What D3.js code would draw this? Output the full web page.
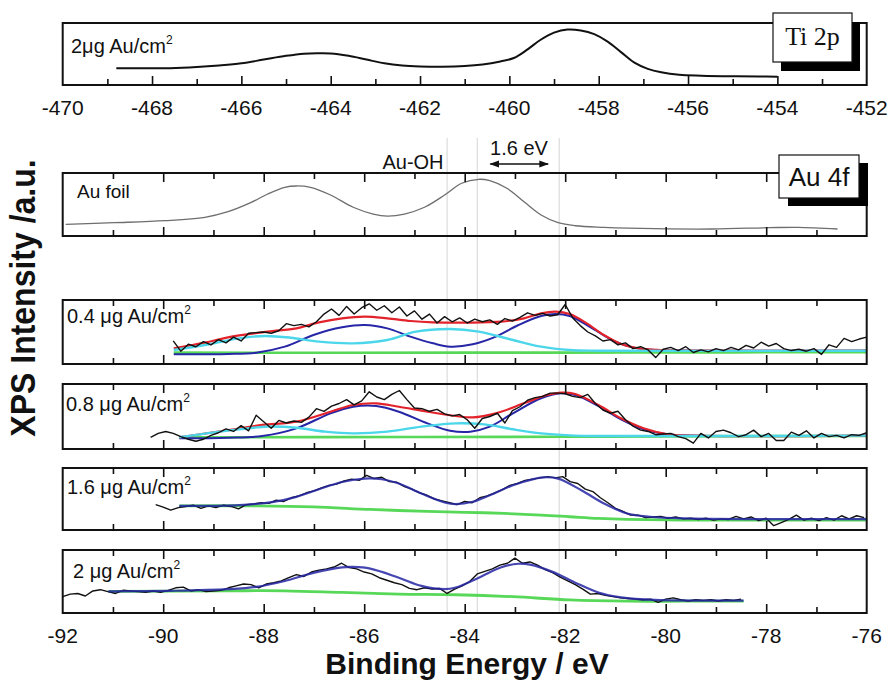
<!DOCTYPE html>
<html>
<head>
<meta charset="utf-8">
<script src="https://cdn.jsdelivr.net/npm/d3@7"></script>
<style>
  body { margin: 0; background: #fff; }
  svg { display: block; }
</style>
</head>
<body>
<svg id="chart" width="889" height="682"></svg>
<script>
// ---------------- data ----------------
// Binding-energy axes (eV, plotted as negative values)
const tiDomain = [-470, -452];
const auDomain = [-92, -76];
const tiTickLabels = [-470, -468, -466, -464, -462, -460, -458, -456, -454, -452];
const auTickLabels = [-92, -90, -88, -86, -84, -82, -80, -78, -76];

// Reference energies marked across the Au 4f panels
const refLines = [-84.35, -83.75, -82.12];
const shiftArrow = [-83.49, -82.34];   // "1.6 eV" arrow ends

// Ti 2p, 2 µg Au/cm² : [energy, intensity a.u.]
const tiSpectrum = [[-468.8,26.9],[-468.2,27],[-467.6,27.2],[-467.0,29],[-466.5,31.5],[-466.0,35],[-465.5,41],[-465.0,47],
  [-464.6,50.5],[-464.3,51.3],[-464.0,51],[-463.6,47],[-463.2,41],[-462.8,35],[-462.4,31.5],[-462.0,30],[-461.5,29.5],
  [-461.0,30.5],[-460.6,33],[-460.2,38],[-459.9,43.5],[-459.6,57],[-459.3,73],[-459.0,84.5],[-458.7,89.5],[-458.4,88],
  [-458.1,82],[-457.8,70],[-457.5,53],[-457.2,36],[-456.9,26],[-456.6,20.5],[-456.2,16.5],[-455.7,15],[-455.0,14],
  [-454.4,13.6],[-454.0,13.4]];

// Au 4f, Au foil
const foilSpectrum = [[-91.94,18.6],[-90.98,21.1],[-89.96,24.3],[-89.17,29.7],[-88.71,38.6],[-88.26,52.9],[-87.92,66.7],
  [-87.58,77.3],[-87.35,79.4],[-87.07,77.3],[-86.67,65.1],[-86.22,45.6],[-85.82,34.9],[-85.54,31.7],[-85.20,34.9],
  [-84.80,45.6],[-84.40,65.1],[-84.06,83.7],[-83.72,90],[-83.50,87.8],[-83.16,75.7],[-82.82,54.4],[-82.48,33.3],
  [-82.14,21.1],[-81.80,16.3],[-81.23,13.8],[-80.21,11.6],[-79.07,11.1],[-77.94,13.2],[-77.37,13.8],[-76.58,11.1]];

// Raw scans: constant energy step, first energy per scan
const scanStep = 0.15;
const scan04Start = -89.8;
const counts04 = [36,20,31,27,35,30,38,33,42,36,48,49,50,48,52,63,60,62,58,66,78,86,76,90,78,88,94,84,91,80,89,75,83,70,
  78,64,74,66,72,64,70,66,69,62,71,67,73,80,76,79,75,77,93,72,60,50,44,36,38,30,33,24,27,22,10,23,26,21,27,18,22,19,24,
  21,26,22,29,25,34,28,32,24,21,23,20,24,15,30,26,40,35,39,42];
const scan08Start = -90.25;
const counts08 = [18,24,27,24,19,15,12,15,21,25,31,27,36,28,52,42,32,44,40,43,41,49,62,58,66,70,76,68,74,88,80,76,84,90,
  76,63,62,58,61,54,51,53,45,32,47,50,55,40,59,65,75,79,81,86,86,85,81,79,84,70,60,55,58,45,35,29,27,22,23,24,19,16,9,
  24,17,27,29,25,19,22,29,19,24,13,13,26,21,28,17,24,19,21,17,22,21,25];
const scan16Start = -90.15;
const counts16 = [41,37,32,36,38,40,35,39,36,40,38,34,41,42,44,43,48,46,52,55,60,63,68,72,74,79,82,80,88,83,85,78,77,70,
  66,60,56,50,47,44,41,46,44,52,55,60,65,72,75,80,82,84,86,84,86,78,75,66,62,52,44,35,30,24,24,20,21,22,19,21,18,19,17,
  19,16,18,17,22,18,21,15,19,7,12,17,24,16,19,15,20,16,23,18,23,20];
const scan20Start = -92.0;
const counts20 = [26,30,31,27,35,37,34,31,36,35,34,33,35,33,36,40,41,35,37,34,35,36,40,43,46,45,40,46,48,51,56,61,58,65,
  68,70,73,79,72,70,65,62,56,52,48,45,39,37,40,38,39,31,38,43,50,62,66,70,76,79,87,79,81,76,69,64,57,51,45,38,30,31,28,
  26,24,23,22,21,22,17,22,24,21,19,21,20,21,19,21,20,22];

// Peak-fit curves [energy, intensity]
const env04 = [[-89.79,24.5],[-89.17,33.3],[-88.71,41.7],[-87.92,50.5],[-87.35,55.7],[-86.90,65.1],[-86.44,71.4],[-85.99,74],
  [-85.54,71.4],[-85.08,67.2],[-84.63,65.1],[-83.95,64.6],[-83.27,66.1],[-82.82,71.4],[-82.48,79.2],[-82.19,81.8],
  [-81.91,78.1],[-81.57,63.5],[-81.23,45.3],[-80.89,31.3],[-80.55,24.5],[-80.10,21.9],[-79.07,20.8],[-76.01,20.8]];
const metal04 = [[-89.79,15.1],[-88.71,15.6],[-88.15,17.7],[-87.58,27.1],[-87.01,45.3],[-86.44,57.3],[-85.99,60.9],
  [-85.54,55.7],[-85.08,42.7],[-84.63,32.3],[-84.29,27.1],[-83.84,30.7],[-83.38,42.7],[-82.93,60.9],[-82.48,75],
  [-82.19,78.1],[-81.91,75],[-81.46,55.7],[-81.00,34.9],[-80.66,26],[-80.21,21.9],[-79.5,20.8],[-76.01,20.8]];
const hydrox04 = [[-89.79,21.9],[-89.17,29.7],[-88.49,40.1],[-87.97,43.8],[-87.46,41.1],[-86.90,34.9],[-86.22,32.3],
  [-85.54,37.5],[-84.97,50.5],[-84.29,54.7],[-83.72,50.5],[-83.04,37.5],[-82.48,27.1],[-81.91,21.9],[-81.34,20.8],
  [-76.01,20.8]];
const bg04 = [[-89.79,17.7],[-84.0,17.7],[-80.6,17.9],[-76.01,18.6]];

const env08 = [[-89.68,18],[-88.71,29],[-88.03,37],[-87.35,42],[-86.67,57.4],[-86.22,67.7],[-85.76,70.3],[-85.31,65],
  [-84.74,57.4],[-84.18,50.8],[-83.84,48.7],[-83.38,54.9],[-82.82,70.3],[-82.36,83],[-82.08,86.7],[-81.80,84.6],
  [-81.34,67.7],[-80.89,47.2],[-80.44,31.8],[-79.98,23],[-79.41,20.5],[-76.01,20.5]];
const metal08 = [[-89.68,16.4],[-88.71,17.4],[-88.03,20],[-87.35,31.8],[-86.67,54.9],[-86.22,65.1],[-85.76,66.2],
  [-85.31,57.4],[-84.74,39.5],[-84.29,28.2],[-83.89,26.7],[-83.50,34.4],[-83.04,54.9],[-82.48,78],[-82.08,85.6],
  [-81.80,83],[-81.34,66.2],[-80.89,45.6],[-80.44,30.3],[-79.98,22.6],[-79.41,20.5],[-76.01,20.5]];
const hydrox08 = [[-89.68,18],[-88.71,28.2],[-87.92,34.4],[-87.35,32.8],[-86.78,26.7],[-86.22,24.1],[-85.54,26.7],
  [-84.86,34.4],[-84.18,39.5],[-83.61,37.9],[-83.04,30.3],[-82.48,24.1],[-81.91,21],[-81.34,20],[-76.01,20.5]];
const bg08 = [[-89.68,18],[-85.0,18.5],[-82.0,18.8],[-80.0,19.5],[-76.01,20]];

const fit16 = [[-89.68,39],[-88.49,40.1],[-87.80,45.5],[-87.35,53.5],[-86.90,65.8],[-86.44,77.5],[-85.99,82.9],
  [-85.65,81.8],[-85.31,74.9],[-84.86,58.8],[-84.40,44.4],[-84.18,41.7],[-83.84,45.5],[-83.50,56.1],[-83.04,72.2],
  [-82.59,82.9],[-82.42,85],[-82.14,82.9],[-81.68,64.2],[-81.23,42.8],[-80.77,26.7],[-80.32,21.4],[-79.64,18.7],
  [-77.94,17.6],[-75.92,17.6]];
const bg16 = [[-89.68,39],[-88.15,39],[-87.01,37.4],[-85.88,33.2],[-84.74,29.9],[-83.61,27.8],[-82.48,24.1],
  [-81.91,21.4],[-81.34,18.7],[-80.77,17.1],[-79.64,16],[-75.92,16]];

const fit20 = [[-91.09,34.2],[-89.85,35.2],[-88.71,37.8],[-88.15,41.5],[-87.58,50.8],[-87.01,63.7],[-86.44,72.5],
  [-86.22,73.1],[-85.88,70.5],[-85.31,56],[-84.86,43],[-84.40,37.8],[-84.18,40.4],[-83.72,56],[-83.27,72.5],
  [-82.93,78.2],[-82.70,76.7],[-82.25,65.3],[-81.80,48.2],[-81.34,32.6],[-80.89,24.9],[-80.21,20.7],[-78.45,19.7]];
const bg20 = [[-91.09,34.2],[-88.71,35.2],[-87.58,35.2],[-86.44,32.6],[-85.31,30],[-84.18,29],[-83.04,25.9],
  [-81.91,20.7],[-80.77,18.7],[-79.64,18.7],[-78.45,18.7]];

// ---------------- drawing ----------------
const svg = d3.select("#chart");
const sans = "'Liberation Sans', Arial, Helvetica, sans-serif";
const X0 = 62.7, X1 = 866.7;
const xTi = d3.scaleLinear().domain(tiDomain).range([X0, X1]);
const xAu = d3.scaleLinear().domain(auDomain).range([X0, X1]);

const C = { red: "#e3232b", blue: "#2626a6", cyan: "#4cd6ea", green: "#46d446", foil: "#6e6e6e" };

function makePanel(top, bottom, id) {
  const y = d3.scaleLinear().domain([0, 100]).range([bottom, top]);
  svg.append("clipPath").attr("id", id).append("rect")
    .attr("x", X0).attr("y", top).attr("width", X1 - X0).attr("height", bottom - top);
  return { top, bottom, y, id };
}

const pTi = makePanel(23, 85, "cTi");
const pFoil = makePanel(173, 236, "cFoil");
const p04 = makePanel(300, 364, "c04");
const p08 = makePanel(384, 449, "c08");
const p16 = makePanel(468, 530, "c16");
const p20 = makePanel(550, 613, "c20");

function label(x, y, txt, opt = {}) {
  const g = svg.append("g").attr("transform", `translate(${x},${y}) scale(${opt.stretch || 1},1)`);
  const t = g.append("text")
    .attr("font-family", opt.family || sans)
    .attr("font-size", opt.size || 20)
    .attr("font-weight", opt.weight || "normal")
    .attr("text-anchor", opt.anchor || "start")
    .attr("fill", "#111")
    .text(txt);
  if (opt.sup) {
    t.append("tspan").attr("font-size", 12).attr("dy", -9).text(opt.sup);
  }
  return t;
}

// reference energy lines across the Au 4f stack
refLines.forEach(e => {
  svg.append("line").attr("x1", xAu(e)).attr("x2", xAu(e)).attr("y1", 138).attr("y2", 613)
    .attr("stroke", "#d4d4d4").attr("stroke-width", 1);
});

function drawLine(p, x, data, color, width, curve, opacity = 1) {
  const gen = d3.line().x(d => x(d[0])).y(d => p.y(d[1])).curve(curve);
  svg.append("path").datum(data).attr("d", gen)
    .attr("clip-path", `url(#${p.id})`)
    .attr("fill", "none").attr("stroke", color).attr("stroke-width", width)
    .attr("stroke-linejoin", "round").attr("stroke-opacity", opacity);
}
function scanPairs(start, counts) {
  return counts.map((c, i) => [start + i * scanStep, c]);
}
const smooth = d3.curveCatmullRom.alpha(0.5);
const raw = d3.curveLinear;

// Ti 2p
drawLine(pTi, xTi, tiSpectrum, "#111", 2, smooth);
// Au foil
drawLine(pFoil, xAu, foilSpectrum, C.foil, 1.3, smooth);
// 0.4
drawLine(p04, xAu, bg04, C.green, 2.6, smooth, 0.9);
drawLine(p04, xAu, metal04, C.blue, 2, smooth);
drawLine(p04, xAu, env04, C.red, 2.2, smooth);
drawLine(p04, xAu, hydrox04, C.cyan, 2.4, smooth);
drawLine(p04, xAu, scanPairs(scan04Start, counts04), "#111", 1.4, raw);
// 0.8
drawLine(p08, xAu, bg08, C.green, 2.6, smooth, 0.9);
drawLine(p08, xAu, metal08, C.blue, 2, smooth);
drawLine(p08, xAu, env08, C.red, 2.2, smooth);
drawLine(p08, xAu, hydrox08, C.cyan, 2.4, smooth);
drawLine(p08, xAu, scanPairs(scan08Start, counts08), "#111", 1.4, raw);
// 1.6
drawLine(p16, xAu, bg16, C.green, 2.8, smooth, 0.9);
drawLine(p16, xAu, scanPairs(scan16Start, counts16), "#111", 1.4, raw);
drawLine(p16, xAu, fit16, C.blue, 2.2, smooth, 0.85);
// 2
drawLine(p20, xAu, bg20, C.green, 2.8, smooth, 0.9);
drawLine(p20, xAu, scanPairs(scan20Start, counts20), "#111", 1.4, raw);
drawLine(p20, xAu, fit20, C.blue, 2.2, smooth, 0.85);

// frames and inward ticks
function frame(p, x, majors, minors, bothSides) {
  svg.append("rect").attr("x", X0).attr("y", p.top).attr("width", X1 - X0).attr("height", p.bottom - p.top)
    .attr("fill", "none").attr("stroke", "#111").attr("stroke-width", 2);
  const sides = bothSides ? ["bottom", "top"] : ["bottom"];
  sides.forEach(side => {
    [[majors, 9], [minors, 6]].forEach(([vals, len]) => {
      const ax = side === "bottom" ? d3.axisTop(x) : d3.axisBottom(x);
      const g = svg.append("g")
        .attr("transform", `translate(0,${side === "bottom" ? p.bottom : p.top})`)
        .call(ax.tickValues(vals).tickSize(len).tickFormat(""));
      g.select(".domain").remove();
      g.selectAll("line").attr("stroke", "#111").attr("stroke-width", 1.6);
    });
  });
}
const tiMajor = d3.range(-468, -453, 2), tiMinor = d3.range(-469, -452, 2);
const auMajor = d3.range(-90, -77, 2), auMinor = d3.range(-91, -76, 2);
frame(pTi, xTi, tiMajor, tiMinor, false);
[pFoil, p04, p08, p16, p20].forEach(p => frame(p, xAu, auMajor, auMinor, true));

// tick labels
tiTickLabels.forEach(v => label(xTi(v), 115, String(v), { anchor: "middle", size: 21 }));
auTickLabels.forEach(v => label(xAu(v), 643, String(v), { anchor: "middle", size: 21 }));

// panel labels
label(71, 53, "2μg Au/cm", { sup: "2" });
label(77, 198, "Au foil", { size: 19 });
label(67, 323, "0.4 μg Au/cm", { sup: "2" });
label(66, 411, "0.8 μg Au/cm", { sup: "2" });
label(67, 494, "1.6 μg Au/cm", { sup: "2" });
label(73, 578, "2 μg Au/cm", { sup: "2" });

// annotations
label(413, 169, "Au-OH", { anchor: "middle" });
label(519, 155, "1.6 eV", { anchor: "middle" });
const defs = svg.append("defs");
defs.append("marker").attr("id", "ah").attr("viewBox", "0 0 10 10").attr("refX", 9).attr("refY", 5)
  .attr("markerWidth", 7).attr("markerHeight", 7).attr("orient", "auto-start-reverse")
  .append("path").attr("d", "M0,1.5 L10,5 L0,8.5 Z").attr("fill", "#111");
svg.append("line").attr("x1", xAu(shiftArrow[0])).attr("x2", xAu(shiftArrow[1])).attr("y1", 164).attr("y2", 164)
  .attr("stroke", "#111").attr("stroke-width", 1.4)
  .attr("marker-start", "url(#ah)").attr("marker-end", "url(#ah)");

// core-level boxes with drop shadow
function badge(x, y, w, h, txt, family, size, baseline, dx, dy) {
  svg.append("rect").attr("x", x + dx).attr("y", y + dy).attr("width", w).attr("height", h).attr("fill", "#000");
  svg.append("rect").attr("x", x).attr("y", y).attr("width", w).attr("height", h)
    .attr("fill", "#fff").attr("stroke", "#111").attr("stroke-width", 1.2);
  svg.append("text").attr("x", x + w / 2).attr("y", baseline)
    .attr("text-anchor", "middle").attr("font-family", family).attr("font-size", size)
    .attr("fill", "#111").text(txt);
}
badge(773, 13, 79, 49, "Ti 2p", "'Liberation Serif', 'Times New Roman', serif", 26, 45, 8, 9);
badge(779, 155, 80, 43, "Au 4f", sans, 26, 186, 9, 8);

// axis titles
label(467, 674, "Binding Energy / eV", { size: 30, weight: "bold", anchor: "middle" });
svg.append("g").attr("transform", "translate(35,298) scale(1.1,1) rotate(-90)")
  .append("text").attr("text-anchor", "middle").attr("font-family", sans).attr("font-size", 32)
  .attr("font-weight", "bold").attr("fill", "#111").text("XPS Intensity /a.u.");
</script>
</body>
</html>
